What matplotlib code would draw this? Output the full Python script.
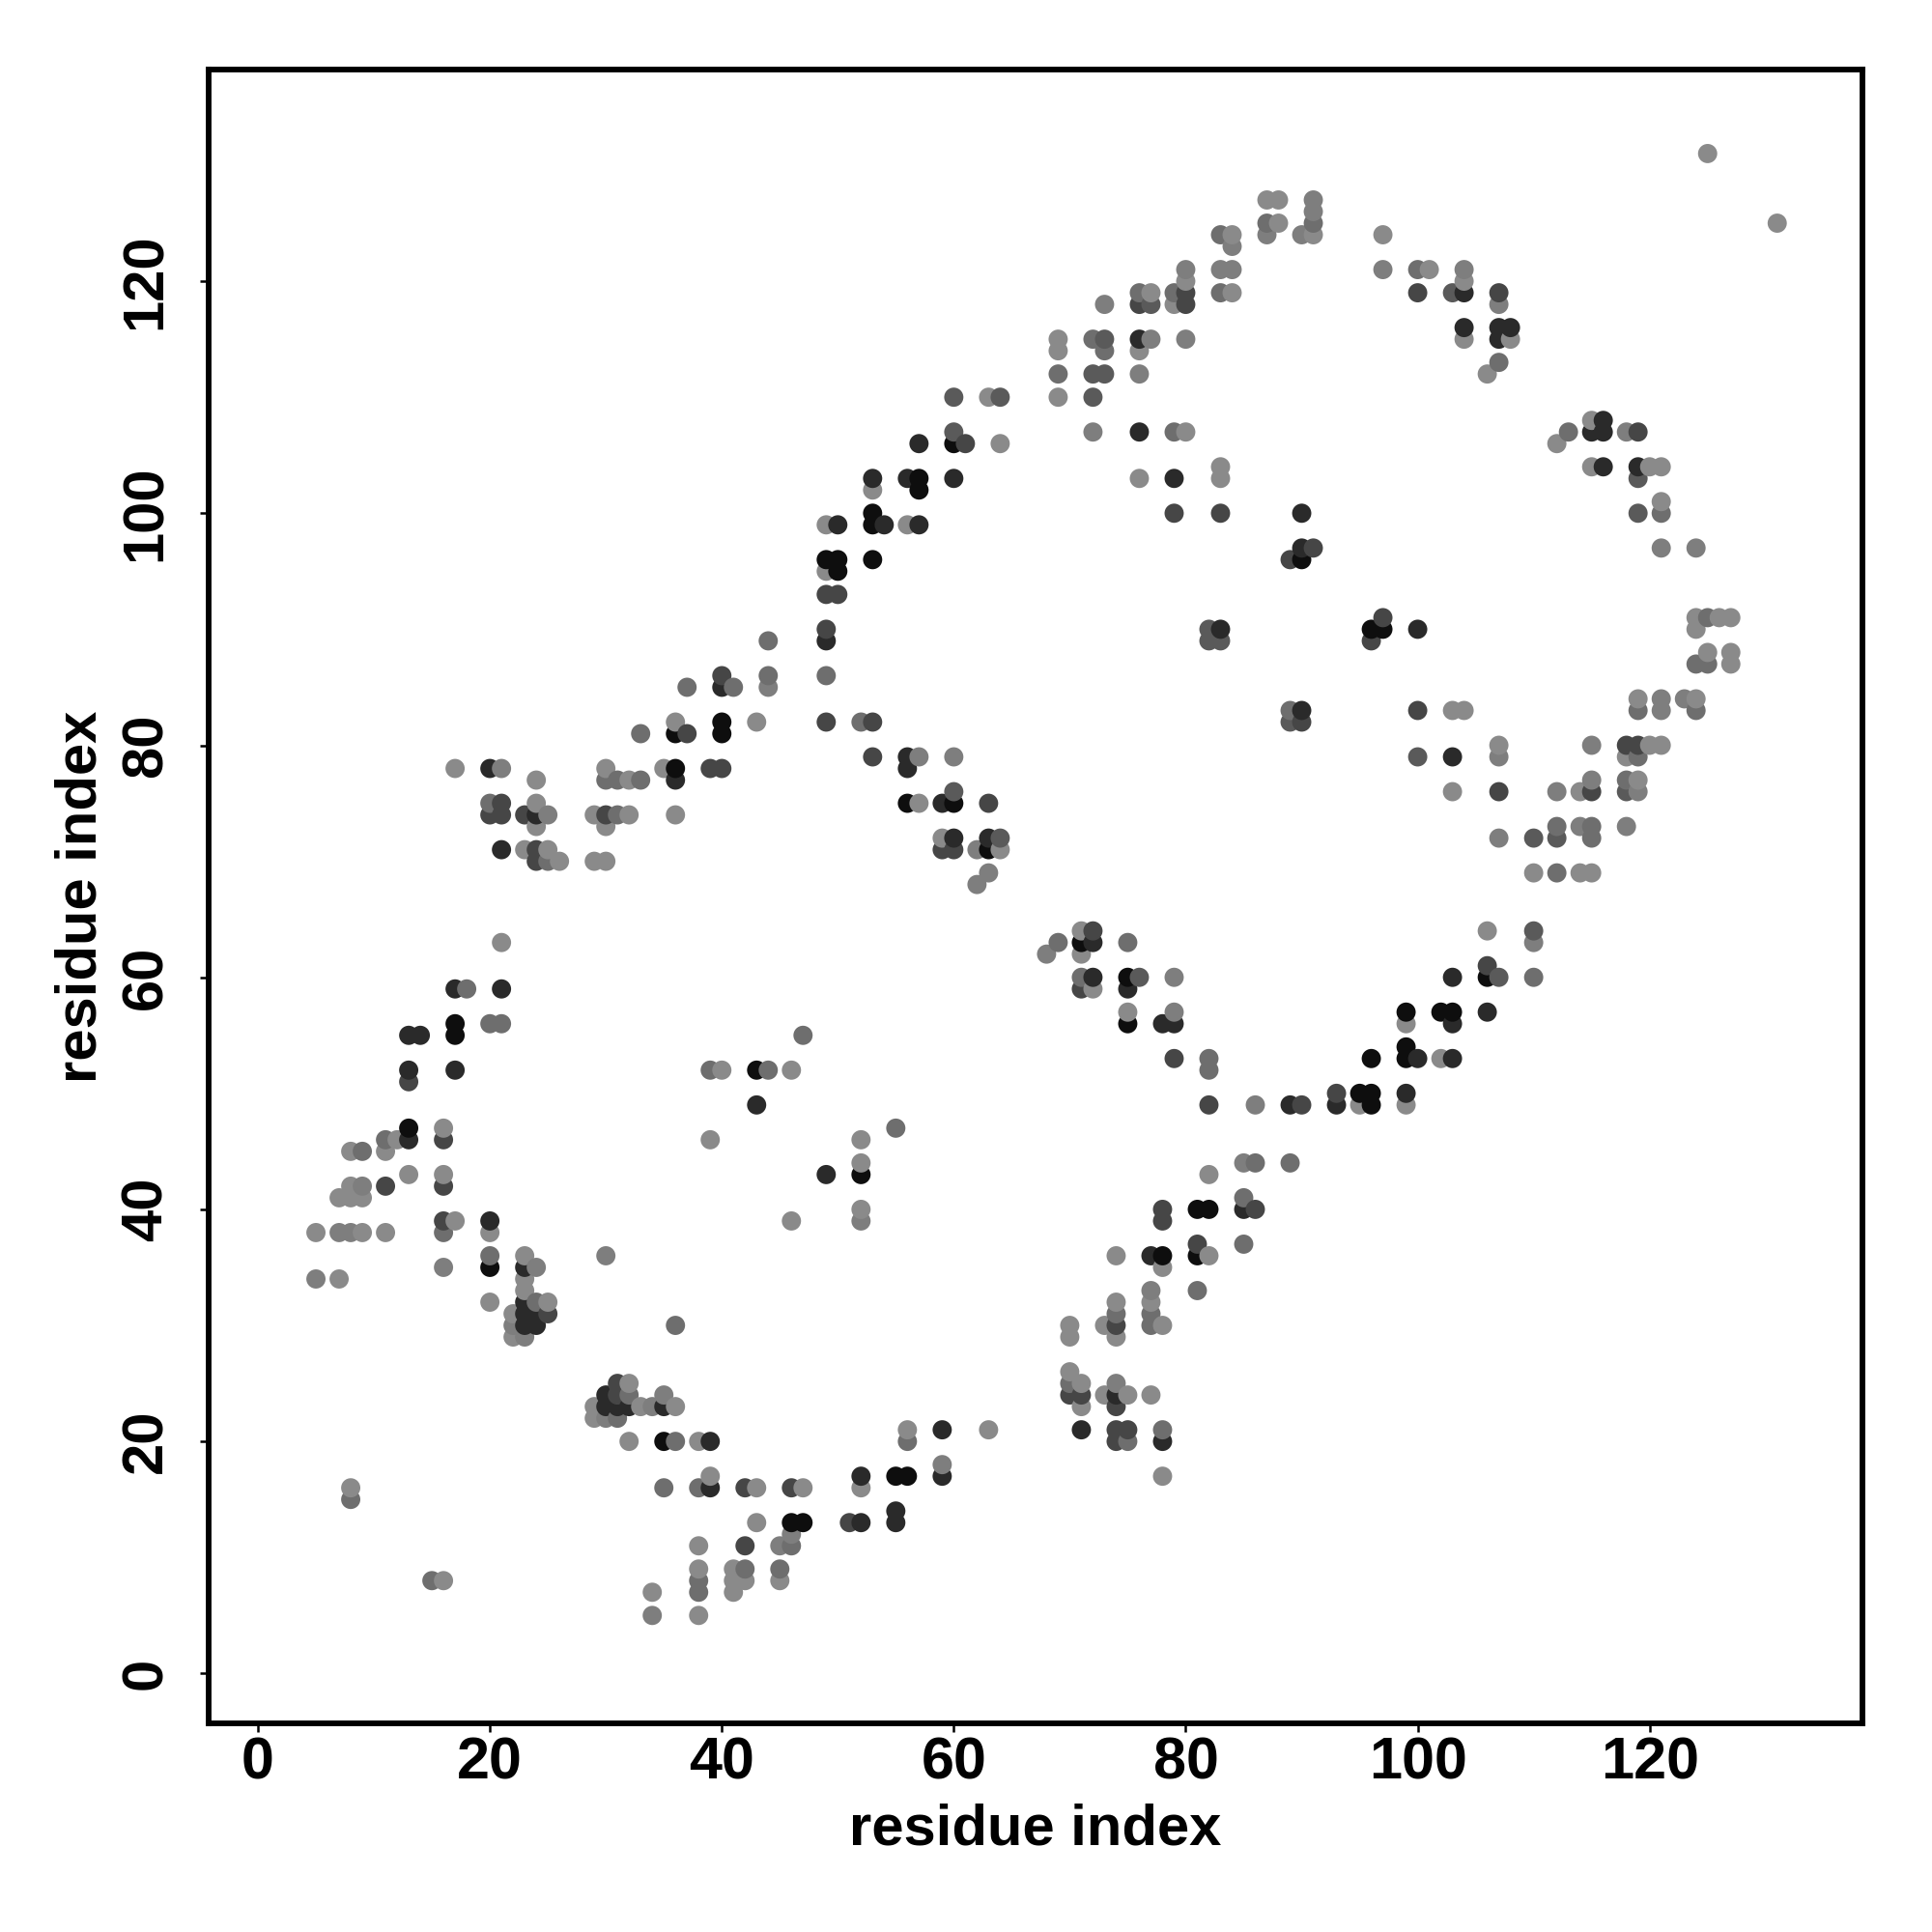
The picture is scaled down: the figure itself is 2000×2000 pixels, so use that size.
import matplotlib
matplotlib.use("Agg")
import matplotlib.pyplot as plt

plt.rcParams['font.family'] = ['Liberation Sans', 'DejaVu Sans']

tick_values = [0, 20, 40, 60, 80, 100, 120]
axis_title = "residue index"

# contact points (x, y) grouped by the grey shade
light = [(16,47),(12,46),(11,45),(8,45),(39,46),(13,43),(16,43),(8,42),(7,41),(8,41),(9,41),(17,39),(20,38),
 (5,38),(9,38),(11,38),(23,36),(23,34),(23,33),(7,34),(20,32),(25,32),(22,31),(22,29),(32,25),(29,23),(29,22),
 (33,23),(36,23),(32,20),(38,20),(39,17),(43,16),(8,16),(43,13),(38,11),(38,9),(41,9),(41,8),(42,8),(41,7),(34,7),(38,5),
 (16,8),(52,46),(52,44),(52,40),(46,39),(56,21),(63,21),(52,16),(47,16),(45,8),(78,17),(70,26),(71,25),(71,23),(70,30),(70,29),
 (73,30),(74,32),(74,29),(77,32),(78,30),(73,24),(75,24),(77,24),(74,36),(78,35),(82,36),(82,43),
 (36,82),(43,82),(17,78),(30,78),(35,78),(24,77),(32,77),(24,75),(29,74),(32,74),(36,74),(24,73),(30,73),(23,71),(25,71),
 (26,70),(29,70),(30,70),(21,63),(40,52),(46,52),(53,102),(49,95),(49,99),(56,99),(57,75),(64,106),(59,72),(64,71),(71,64),(71,62),(72,59),
 (75,57),(99,56),(102,53),(95,49),(99,49),(115,108),(112,106),(115,104),(120,104),(121,104),(121,101),(103,83),(104,83),(124,91),(126,91),(127,91),
 (124,90),(125,88),(127,88),(127,87),(119,84),(124,84),(120,80),(121,80),(118,79),(103,76),(114,76),(119,77),(110,69),(114,69),(115,69),
 (106,64),(125,131),(131,125),(87,127),(88,127),(91,124),(88,125),(84,124),(97,124),(101,121),(104,120),(80,120),(104,115),(108,115),(106,112),
 (77,119),(84,119),(79,118),(69,115),(69,114),(76,114),(69,110),(63,110),(80,107),(76,103),(83,104),(83,103),(107,80)]

mid_light = [(9,42),(7,38),(8,38),(24,35),(16,35),(30,36),(5,34),(22,30),(23,29),(30,22),(34,23),(35,24),(34,5),
 (52,39),(46,12),(45,11),(59,18),(77,33),(74,25),(60,79),(63,69),(62,68),(62,71),(68,62),(79,60),(44,85),(25,74),(21,78),
 (57,79),(85,44),(79,57),(110,63),(121,97),(124,97),(121,84),(121,83),(123,84),(107,79),(115,80),(112,76),(115,77),(119,76),(107,72),
 (114,73),(118,73),(118,107),(87,124),(90,124),(91,127),(91,126),(84,123),(83,121),(84,121),(80,121),(97,121),(104,121),
 (73,118),(77,115),(80,115),(76,112),(72,107),(107,118),(86,49)]

mid = [(11,46),(9,45),(16,38),(20,36),(15,8),(8,15),(36,30),(24,32),(32,24),(31,22),(36,20),(35,16),(38,16),(38,8),(38,7),(42,9),
 (45,9),(46,11),(55,47),(56,20),(78,21),(74,31),(70,25),(77,31),(77,30),(81,33),(75,63),(75,20),(49,86),(44,89),(44,86),(37,85),
 (41,85),(33,81),(18,59),(20,56),(21,56),(30,77),(31,77),(33,77),(31,74),(20,75),(25,70),(39,52),(44,52),(47,55),(52,82),
 (89,83),(119,83),(124,83),(124,87),(125,87),(125,91),(119,79),(118,77),(115,73),(115,72),(112,73),(112,69),(121,100),
 (113,107),(85,41),(85,37),(86,44),(89,44),(82,53),(82,52),(71,60),(69,63),(76,119),(79,119),(83,124),(87,125),(91,125),(83,119),
 (100,121),(72,115),(73,114),(69,112),(79,107),(107,113),(110,60)]

mid_dark = [(73,112),(64,110),(60,110),(72,110),(72,112),(103,119),(110,64),(110,72),(112,72),(118,76),(89,82),(82,90),(82,89),(83,89),
 (64,72),(76,60),(100,79),(119,103),(73,115),(77,118),(119,100),(60,107),(60,76),(107,60)]

dark_mid = [(16,46),(16,42),(11,42),(16,39),(42,16),(42,11),(46,16),(51,13),(31,25),(31,24),(25,31),(70,24),(71,24),(74,20),(74,21),(75,21),(74,30),(74,23),
 (78,40),(78,39),(81,37),(13,51),(39,78),(40,78),(40,86),(37,81),(21,75),(20,74),(21,74),(23,74),(30,74),(24,71),(24,70),(53,79),(49,93),(50,93),(49,90),(49,82),(53,82),
 (59,71),(60,71),(63,75),(72,64),(71,59),(79,53),(82,49),(93,50),(90,49),(61,106),(79,100),(83,100),(119,107),(100,83),
 (107,76),(118,80),(119,80),(115,76),(96,89),(97,91),(91,97),(89,96),(106,61),(80,119),(80,118),(100,119),(76,118),(86,40),(107,119),(90,82)]

dark = [(13,46),(20,39),(23,35),(23,32),(23,31),(24,31),(23,30),(24,30),(30,24),(30,23),(31,23),(32,23),(35,23),(39,20),(39,16),(49,43),(52,17),(59,21),(59,17),(71,21),
 (74,24),(77,36),(78,20),(55,14),(55,13),(52,13),(20,78),(21,71),(24,74),(36,77),(13,55),(14,55),(13,52),(17,52),(17,59),(21,59),(43,49),(40,85),
 (57,106),(53,103),(56,103),(60,103),(54,99),(50,99),(57,99),(79,103),(49,89),(56,79),(56,78),(59,75),(60,72),(63,72),(72,63),(72,60),(75,59),(78,56),(79,56),
 (89,49),(93,49),(100,53),(103,53),(103,56),(106,57),(99,50),(116,108),(115,107),(116,107),(116,104),(119,104),(90,100),(90,97),(100,90),(103,79),(90,83),(85,40),
 (76,115),(76,107),(104,119),(104,116),(107,116),(108,116),(107,115),(103,60),(83,90)]

black = [(13,47),(20,35),(35,20),(46,13),(47,13),(55,17),(56,17),(52,43),(78,36),(81,40),(82,40),(81,36),(17,56),(17,55),(36,81),(36,78),(40,82),(40,81),(43,52),
 (53,100),(53,99),(49,96),(50,96),(53,96),(50,95),(57,103),(57,102),(60,106),(56,75),(60,75),(63,71),(71,63),(75,60),(75,56),(96,53),(99,54),(99,53),(99,57),(102,57),(103,57),
 (95,50),(96,50),(96,49),(90,96),(96,90),(97,90),(106,60)]

shade_names = [light, mid_light, mid, mid_dark, dark_mid, dark, black]
shade_greys = ['#8a8a8a', '#7e7e7e', '#6e6e6e', '#5a5a5a', '#464646', '#2a2a2a', '#0e0e0e']

merged = {}
for pts, g in zip(shade_names, shade_greys):
    for p in pts:
        merged[p] = g
ordered = sorted(merged)

fig = plt.figure(figsize=(20, 20), dpi=100, facecolor='white')
ax = fig.add_axes([0.108, 0.108, 0.856, 0.856])
ax.scatter([p[0] for p in ordered], [p[1] for p in ordered], c=[merged[p] for p in ordered],
           s=205, linewidths=0, zorder=3)
ax.set_xlim(-4.25, 138.35)
ax.set_ylim(-4.3, 138.24)
ax.set_xticks(tick_values)
ax.set_yticks(tick_values)
for s in ax.spines.values():
    s.set_linewidth(4.2)
ax.tick_params(axis='x', length=6.5, width=1.8, pad=3)
ax.tick_params(axis='y', length=6.5, width=1.8, pad=20)
for t in ax.get_xticklabels():
    t.set_fontsize(44); t.set_fontweight('bold')
for t in ax.get_yticklabels():
    t.set_fontsize(43); t.set_fontweight('bold'); t.set_rotation(90); t.set_va('center')
ax.set_xlabel(axis_title, fontsize=43, fontweight='bold', labelpad=9)
ax.set_ylabel(axis_title, fontsize=43, fontweight='bold', labelpad=9)
fig.savefig('out.png', dpi=100, facecolor='white')
